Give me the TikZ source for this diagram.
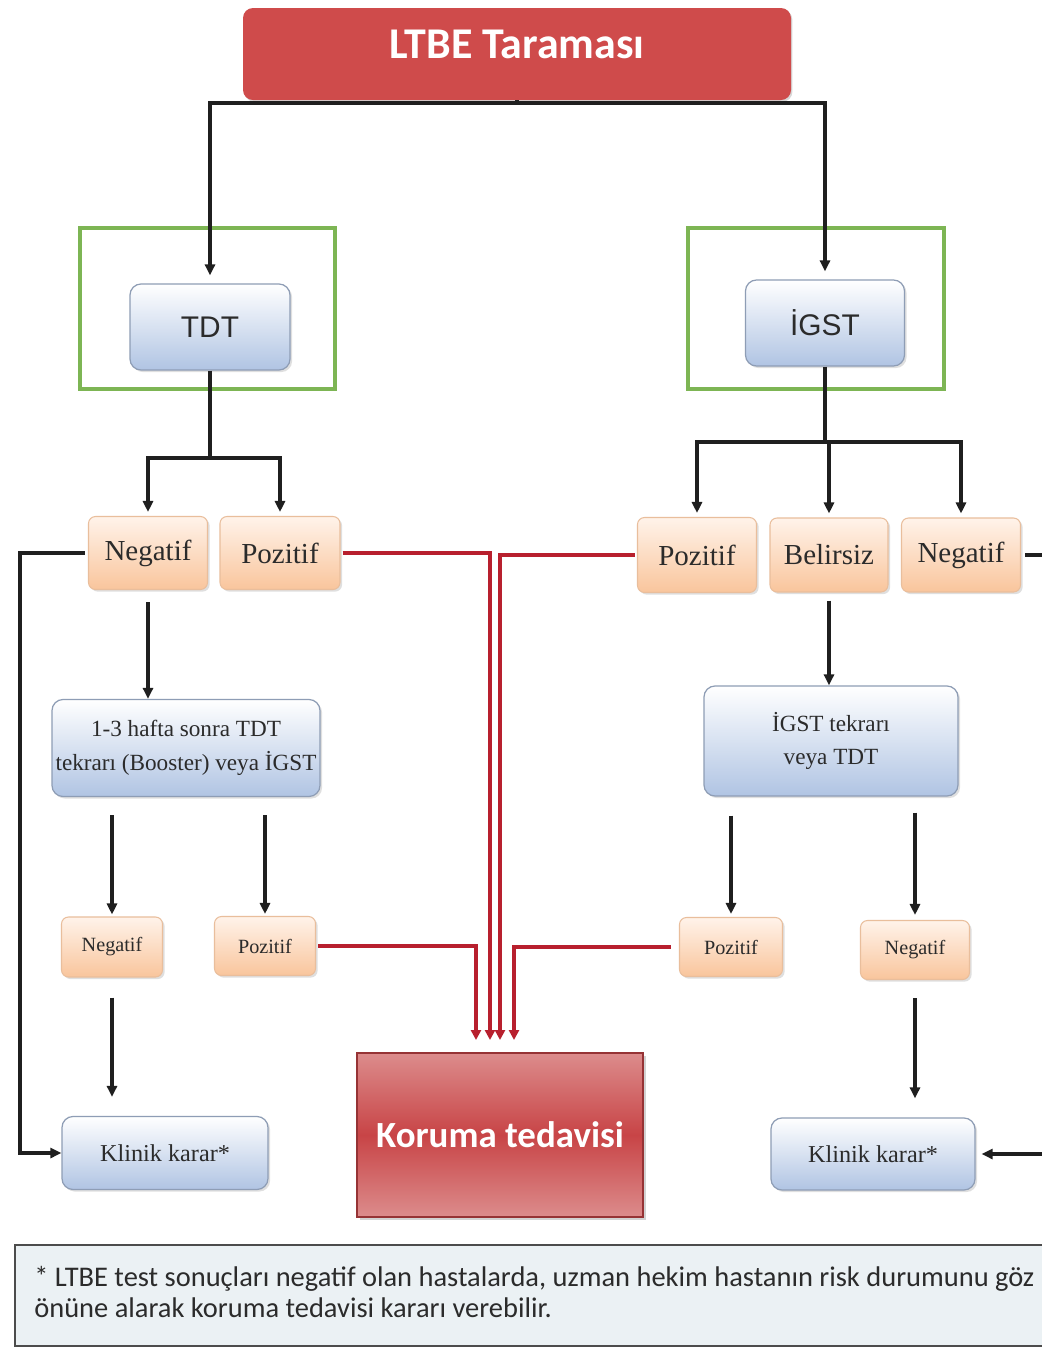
\documentclass[tikz,border=0pt]{standalone}
\usepackage{fontspec}
\setmainfont{Liberation Serif}
\newfontfamily\calib{Carlito}
\newfontfamily\lsans{Liberation Sans}
\usetikzlibrary{arrows.meta,shadows}
\definecolor{topred}{HTML}{CF4B4B}
\definecolor{korred}{HTML}{C84446}
\definecolor{korlight}{HTML}{DC8C8C}
\definecolor{linered}{HTML}{B8202E}
\definecolor{blueb}{HTML}{B0C4E3}
\definecolor{boxedge}{HTML}{8E9DB5}
\definecolor{ortop}{HTML}{FFF3EA}
\definecolor{orbot}{HTML}{F9C59C}
\definecolor{oredge}{HTML}{E9BE9C}
\definecolor{greenf}{HTML}{7DB554}
\definecolor{notefill}{HTML}{EBF1F4}
\definecolor{txt}{HTML}{2B2B2B}
\begin{document}
\begin{tikzpicture}[x=0.02cm,y=-0.02cm,
  line/.style={line width=0.07cm, draw=black!88},
  arr/.style={line, -{Triangle[length=0.22cm,width=0.2cm]}},
  rarr/.style={line width=0.08cm, draw=linered, -{Triangle[length=0.2cm,width=0.2cm]}},
  sz/.style 2 args={minimum width=#1*0.02cm, minimum height=#2*0.02cm, inner sep=0pt},
  shade/.style={drop shadow={opacity=0.25, shadow xshift=1.2pt, shadow yshift=-1.2pt}},
  bluebox/.style={rounded corners=0.22cm, draw=boxedge, line width=0.7pt, top color=white, bottom color=blueb, shade, text=txt},
  orbox/.style={rounded corners=0.14cm, draw=oredge, line width=0.6pt, top color=ortop, bottom color=orbot, shade, text=txt},
  greenframe/.style={draw=greenf, line width=0.08cm},
  bigsans/.style={font=\lsans\fontsize{17}{20}\selectfont},
  ser16/.style={font=\fontsize{16.5}{19}\selectfont},
  ser13/.style={font=\fontsize{13.2}{19}\selectfont, align=center},
  ser11/.style={font=\fontsize{11.5}{14}\selectfont},
  serk/.style={font=\fontsize{13.8}{16}\selectfont},
]
\clip (0,0) rectangle (1042,1347);
\fill[white] (0,0) rectangle (1042,1347);

% green frames
\draw[greenframe] (80,228) rectangle (335,389);
\draw[greenframe] (688,228) rectangle (944,389);

% nodes
\node[rounded corners=0.2cm, fill=topred, text=white, sz={548}{92},
      drop shadow={opacity=0.3, shadow xshift=0.8pt, shadow yshift=-1pt},
      text height=17pt, text depth=12pt,
      font=\calib\bfseries\fontsize{25}{29}\selectfont] (top) at (517,54) {LTBE Taraması};
\node[bluebox, sz={160}{86}, bigsans] (tdt) at (210,327) {TDT};
\node[bluebox, sz={159}{86}, bigsans] (igst) at (825,323) {İGST};

\node[orbox, sz={119}{73}, ser16] (negL) at (148,553) {Negatif};
\node[orbox, sz={120}{73}, ser16] (pozL) at (280,553) {Pozitif};
\node[orbox, sz={119}{75}, ser16] (pozR) at (697,555) {Pozitif};
\node[orbox, sz={118}{74}, ser16] (bel) at (829,555) {Belirsiz};
\node[orbox, sz={119}{74}, ser16] (negR) at (961,555) {Negatif};

\node[bluebox, sz={268}{97}, ser13] (hafta) at (186,748) {1-3 hafta sonra TDT\\tekrarı (Booster) veya İGST};
\node[bluebox, sz={254}{110}, ser13] (tekrar) at (831,741) {İGST tekrarı\\veya TDT};

\node[orbox, sz={101}{60}, ser11] (snegL) at (112,947) {Negatif};
\node[orbox, sz={101}{59}, ser11] (sposL) at (265,946) {Pozitif};
\node[orbox, sz={103}{59}, ser11] (sposR) at (731,947) {Pozitif};
\node[orbox, sz={109}{59}, ser11] (snegR) at (915,950) {Negatif};

\node[bluebox, sz={206}{73}, serk] (klinL) at (165,1153) {Klinik karar*};
\node[bluebox, sz={204}{72}, serk] (klinR) at (873,1154) {Klinik karar*};

\node[sz={286}{164}, top color=korlight, bottom color=korlight, middle color=korred,
      draw=korred!75!black, line width=0.7pt, text=white,
      drop shadow={opacity=0.35, shadow xshift=1.5pt, shadow yshift=-1.5pt},
      font=\calib\bfseries\fontsize{21}{25}\selectfont] (koruma) at (500,1135) {Koruma tedavisi};

% note box
\draw[fill=notefill, draw=black!70, line width=0.05cm] (15,1245) rectangle (1070,1346);
\node[anchor=west, align=left, text=txt, inner sep=0pt,
      font=\calib\fontsize{16.2}{18}\selectfont] (note) at (34,1292)
  {* LTBE test sonuçları negatif olan hastalarda, uzman hekim hastanın risk durumunu göz\\önüne alarak koruma tedavisi kararı verebilir.};

% coordinates
\coordinate (j0) at (517,103);
\coordinate (tj) at (210,458);
\coordinate (ij) at (825,442);
\coordinate (k1) at (476,1040);
\coordinate (k2) at (490,1040);
\coordinate (k3) at (500,1040);
\coordinate (k4) at (514,1040);

% black connectors
\draw[line] (top.south) -- (j0);
\draw[arr, shorten >=0.16cm] (j0) -| (tdt.north);
\draw[arr, shorten >=0.16cm] (j0) -| (igst.north);

\draw[line] (tdt.south) -- (tj);
\draw[arr, shorten >=0.08cm] (tj) -| (negL.north);
\draw[arr, shorten >=0.08cm] (tj) -| (pozL.north);

\draw[line] (igst.south) -- (ij);
\draw[arr, shorten >=0.08cm] (ij) -| (pozR.north);
\draw[arr, shorten >=0.08cm] (bel.north |- ij) -- (bel.north);
\draw[arr, shorten >=0.08cm] (ij) -| (negR.north);

\draw[arr, shorten <=0.24cm] (negL.south) -- (negL.south |- hafta.north);
\draw[arr, shorten <=0.16cm] (bel.south) -- (bel.south |- tekrar.north);

\draw[arr, shorten <=0.36cm, shorten >=0.04cm] (snegL.north |- hafta.south) -- (snegL.north);
\draw[arr, shorten <=0.36cm, shorten >=0.04cm] (sposL.north |- hafta.south) -- (sposL.north);
\draw[arr, shorten <=0.38cm, shorten >=0.06cm] (sposR.north |- tekrar.south) -- (sposR.north);
\draw[arr, shorten <=0.32cm, shorten >=0.1cm] (snegR.north |- tekrar.south) -- (snegR.north);

\draw[arr, shorten <=0.4cm, shorten >=0.38cm] (snegL.south) -- (snegL.south |- klinL.north);
\draw[arr, shorten <=0.36cm, shorten >=0.38cm] (snegR.south) -- (snegR.south |- klinR.north);

\draw[arr, shorten <=0.06cm] (negL.west) -- ++(-68,0) |- (klinL.west);
\draw[arr, shorten <=0.08cm, shorten >=0.12cm] (negR.east) -- ++(80,0) |- (klinR.east);

% red connectors
\draw[rarr, shorten <=0.04cm] (pozL.east) -| (k2);
\draw[rarr, shorten <=0.04cm] (pozR.west) -| (k3);
\draw[rarr, shorten <=0.04cm] (sposL.east) -| (k1);
\draw[rarr, shorten <=0.16cm] (sposR.west) -| (k4);
\end{tikzpicture}
\end{document}
